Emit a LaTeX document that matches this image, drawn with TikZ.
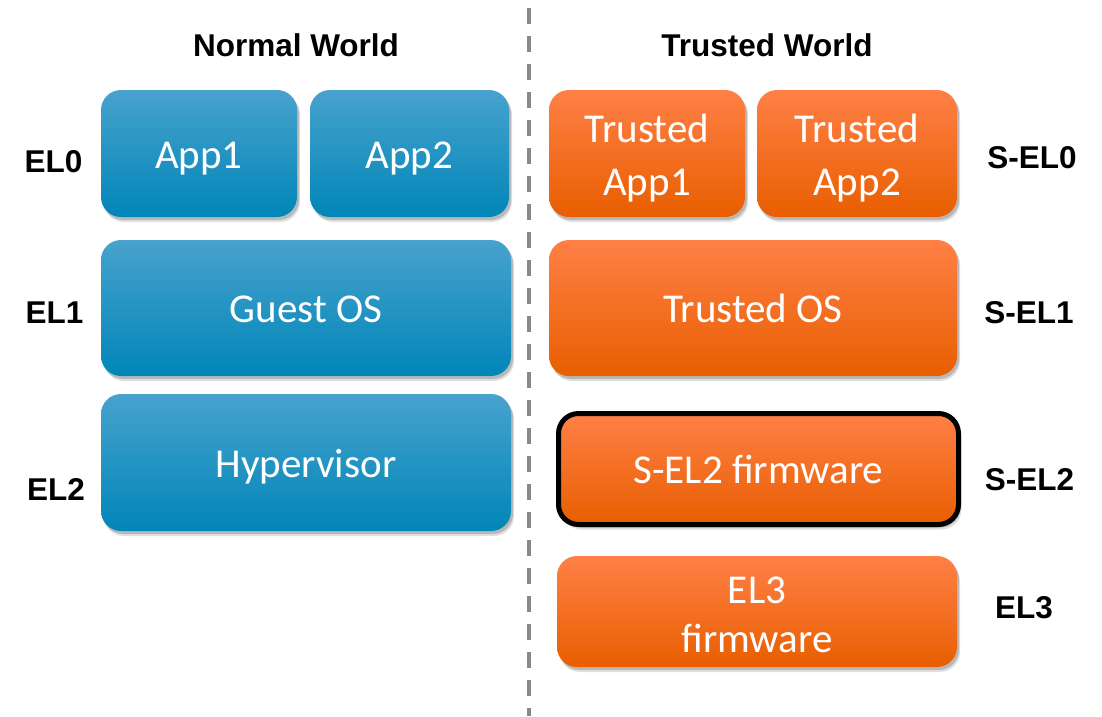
\documentclass[tikz,border=0pt]{standalone}
\usepackage{fontspec}
\setmainfont{Liberation Sans}
\newfontfamily\boxfont{Carlito}
\usetikzlibrary{shadows}
\definecolor{bluetop}{RGB}{72,162,205}
\definecolor{bluemid}{RGB}{0,150,200}
\definecolor{bluebot}{RGB}{0,134,184}
\definecolor{orgtop}{RGB}{255,128,70}
\definecolor{orgmid}{RGB}{255,106,0}
\definecolor{orgbot}{RGB}{232,94,0}
\definecolor{dashgray}{RGB}{136,136,136}
\tikzset{
  basebox/.style={rectangle, rounded corners=20pt, inner sep=0pt, outer sep=0pt,
    drop shadow={shadow xshift=3pt, shadow yshift=-5pt, opacity=0.12, fill=black},
    drop shadow={shadow xshift=2pt, shadow yshift=-3pt, opacity=0.18, fill=black}},
  bluebox/.style={basebox, top color=bluetop, middle color=bluemid, bottom color=bluebot},
  orgbox/.style={basebox, top color=orgtop, middle color=orgmid, bottom color=orgbot},
  boxtext/.style={anchor=base, inner sep=0pt, text=white, font=\boxfont\fontsize{41}{48}\selectfont},
  eltext/.style={anchor=base, inner sep=0pt, text=black, font=\bfseries\fontsize{31.5}{36}\selectfont},
  divider/.style={draw=dashgray, line width=4pt, dash pattern=on 16pt off 12pt}
}
\begin{document}
\begin{tikzpicture}[x=1pt,y=-1pt]
\useasboundingbox (0,0) rectangle (1102,716);
% divider
\coordinate (dtop) at (529,8);
\coordinate (dbot) at (529,716);
\draw[divider] (dtop) -- (dbot);
% headings
\node[eltext] (nw) at (296,56) {Normal World};
\node[eltext] (tw) at (767,56) {Trusted World};
% level labels
\node[eltext] (el0) at (53.5,172) {EL0};
\node[eltext] (el1) at (54.5,323) {EL1};
\node[eltext] (el2) at (56,500) {EL2};
\node[eltext] (sel0) at (1032,168) {S-EL0};
\node[eltext] (sel1) at (1029,323) {S-EL1};
\node[eltext] (sel2) at (1029.5,490) {S-EL2};
\node[eltext] (el3) at (1024,618) {EL3};
% normal world boxes
\node[bluebox, minimum width=196pt, minimum height=127pt] (app1) at (199,153.5) {};
\node[bluebox, minimum width=199pt, minimum height=127pt] (app2) at (409.5,153.5) {};
\node[bluebox, minimum width=410pt, minimum height=136pt] (guest) at (306,308) {};
\node[bluebox, minimum width=410pt, minimum height=137pt] (hyp) at (306,462.5) {};
\node[boxtext] (app1t) at (199,168) {App1};
\node[boxtext] (app2t) at (409.5,168) {App2};
\node[boxtext] (guestt) at (306,322.5) {Guest OS};
\node[boxtext] (hypt) at (306,477) {Hypervisor};
% trusted world boxes
\node[orgbox, minimum width=196pt, minimum height=127pt] (tapp1) at (647,153.5) {};
\node[orgbox, minimum width=200pt, minimum height=127pt] (tapp2) at (857,153.5) {};
\node[orgbox, minimum width=408pt, minimum height=136pt] (tos) at (753,308) {};
\node[orgbox, minimum width=400pt, minimum height=111pt, draw=black, line width=5pt] (sel2fw) at (758.5,469) {};
\node[orgbox, minimum width=400pt, minimum height=111pt] (el3fw) at (757,611.5) {};
\node[boxtext] (tapp1a) at (647,142) {Trusted};
\node[boxtext] (tapp1b) at (647,195) {App1};
\node[boxtext] (tapp2a) at (857,142) {Trusted};
\node[boxtext] (tapp2b) at (857,195) {App2};
\node[boxtext] (tost) at (753,322.5) {Trusted OS};
\node[boxtext] (sel2t) at (758.5,483) {S-EL2 firmware};
\node[boxtext] (el3a) at (757,603) {EL3};
\node[boxtext] (el3b) at (757,652) {firmware};
\end{tikzpicture}
\end{document}
